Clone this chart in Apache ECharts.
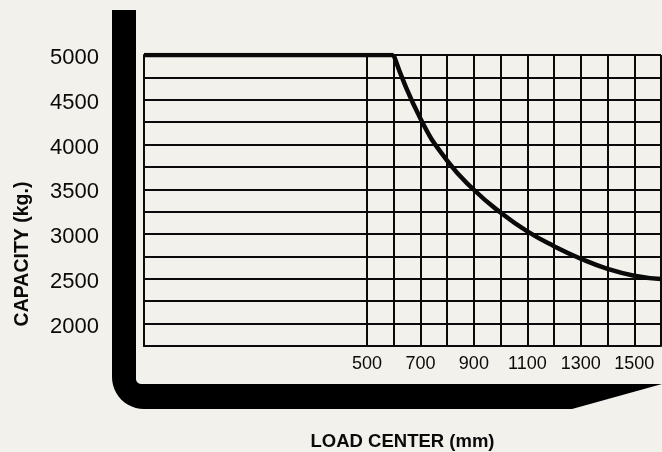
<!DOCTYPE html>
<html>
<head>
<meta charset="utf-8">
<script src="https://cdn.jsdelivr.net/npm/echarts@6/dist/echarts.min.js"></script>
<style>
html,body{margin:0;padding:0;background:#f3f1eb;}
#chart{width:662px;height:452px;}
</style>
</head>
<body>
<div id="chart"></div>
<script>
// ---- data ----
var X_MIN = -334;             // left edge of the (non-to-scale) grid
var X_MAX = 1600;
var flatLoadCenter = [X_MIN, 600];
var flatCapacity = [5000, 5000];
var curveLoadCenter = [600, 700, 800, 900, 1000, 1100, 1200, 1300, 1400, 1500, 1600];
var curveCapacity = [5000, 4290, 3820, 3495, 3240, 3030, 2865, 2725, 2612, 2535, 2497];
var xGridValues = [500, 600, 700, 800, 900, 1000, 1100, 1200, 1300, 1400, 1500, 1600];
var xLabelValues = [500, 700, 900, 1100, 1300, 1500];
var yMin = 1750, yMax = 5000, yStep = 250;
var yLabelStep = 500;
var xTitle = 'LOAD CENTER (mm)';
var yTitle = 'CAPACITY (kg.)';

function pairs(xs, ys) { return xs.map(function (x, i) { return [x, ys[i]]; }); }

// decorative forklift frame outline
function framePoints() {
  var pts = [[112, 10], [136, 10], [136, 379]];
  var i, a;
  for (i = 0; i <= 6; i++) { a = Math.PI - (Math.PI / 2) * (i / 6); pts.push([141 + 5 * Math.cos(a), 379 + 5 * Math.sin(a)]); }
  pts.push([662, 384], [572, 409]);
  for (i = 0; i <= 12; i++) { a = Math.PI / 2 + (Math.PI / 2) * (i / 12); pts.push([144 + 32 * Math.cos(a), 377 + 32 * Math.sin(a)]); }
  return pts;
}

var ink = '#0a0a0a';
var chart = echarts.init(document.getElementById('chart'), null, {renderer: 'canvas'});
chart.setOption({
  backgroundColor: '#f3f1eb',
  animation: false,
  grid: {left: 144, right: 1, top: 55, bottom: 106, containLabel: false, outerBoundsMode: 'none'},
  xAxis: {
    type: 'value', min: X_MIN, max: X_MAX,
    name: xTitle, nameLocation: 'middle', nameGap: 86,
    nameTextStyle: {color: ink, fontFamily: 'Liberation Sans, Arial, sans-serif', fontWeight: 'bold', fontSize: 18.5},
    axisLine: {show: true, onZero: false, lineStyle: {color: ink, width: 2}},
    axisTick: {show: false, customValues: xGridValues},
    axisLabel: {
      customValues: xLabelValues, color: ink, fontFamily: 'Liberation Sans, Arial, sans-serif', fontSize: 18, margin: 9,
      formatter: function (v) { return String(v); }
    },
    splitLine: {show: true, lineStyle: {color: ink, width: 2}}
  },
  yAxis: {
    type: 'value', min: yMin, max: yMax, interval: yStep,
    axisLine: {show: true, onZero: false, lineStyle: {color: ink, width: 2}},
    axisTick: {show: false},
    axisLabel: {
      color: ink, fontFamily: 'Liberation Sans, Arial, sans-serif', fontSize: 22, margin: 45,
      verticalAlign: 'top', lineHeight: 6,
      formatter: function (v) { return (v % yLabelStep === 0) ? String(v) : ''; }
    },
    splitLine: {show: true, lineStyle: {color: ink, width: 2}}
  },
  graphic: [
    {
      type: 'polygon', z: 0,
      shape: {points: framePoints()},
      style: {fill: '#000'}
    },
    {
      type: 'text', z: 10,
      x: 23, y: 254, rotation: Math.PI / 2,
      style: {text: yTitle, fill: ink, font: 'bold 19.5px "Liberation Sans", Arial, sans-serif', align: 'center', verticalAlign: 'middle'}
    }
  ],
  series: [
    {
      type: 'line', data: pairs(flatLoadCenter, flatCapacity), symbol: 'none',
      lineStyle: {color: ink, width: 4.5}, z: 5
    },
    {
      type: 'line', data: pairs(curveLoadCenter, curveCapacity), symbol: 'none', smooth: 0.5,
      lineStyle: {color: ink, width: 4.5}, z: 5
    }
  ]
});
</script>
</body>
</html>
